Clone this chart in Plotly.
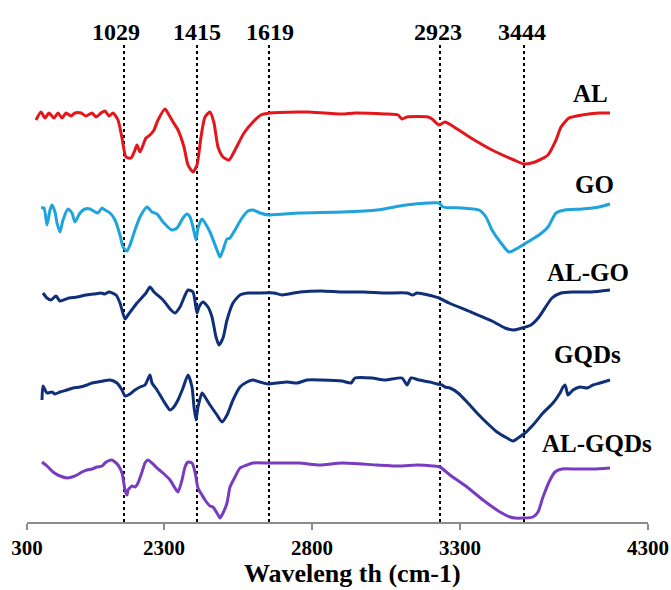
import plotly.graph_objects as go

# x: horizontal chart position units (axis labelled with the reference's tick text)
# y: stacked transmittance (arbitrary units, offsets included)
al_x = [9, 14, 18, 22, 27, 31, 35, 39, 44, 48, 54, 59, 65, 69, 74, 78, 82, 86, 91, 95, 99, 104, 108, 110, 113,
        119, 123, 127, 131, 138, 142, 146, 151, 157, 161, 166, 170, 174, 178, 183, 187, 191, 196, 202, 208, 217,
        226, 234, 243, 272, 281, 315, 328, 358, 371, 375, 380, 401, 405, 412, 418, 427, 444, 465, 487, 497, 508,
        521, 529, 534, 542, 555, 572, 583]
al_y = [402, 410, 404, 409, 404, 409, 404, 409, 406, 409, 409, 406, 409, 405, 409, 411, 406, 409, 402, 384, 365,
        364, 372, 377, 370, 384, 387, 392, 402, 413, 407, 400, 392, 375, 357, 350, 357, 385, 405, 410, 399, 375,
        365, 362, 372, 389, 400, 407, 409, 410, 410, 408, 409, 408, 407, 403, 405, 405, 403, 397, 400, 395, 384,
        372, 362, 358, 360, 367, 382, 395, 404, 407, 409, 409]

go_x = [14, 17, 20, 23, 25, 28, 30, 33, 36, 41, 45, 48, 53, 58, 63, 68, 71, 75, 78, 83, 88, 93, 96, 100, 103, 108,
        113, 120, 125, 130, 136, 145, 150, 156, 160, 163, 166, 169, 171, 175, 178, 183, 190, 193, 196, 200, 203,
        208, 215, 221, 226, 233, 242, 272, 315, 350, 379, 401, 412, 416, 435, 452, 459, 465, 474, 482, 491, 499,
        512, 521, 529, 538, 555, 572, 583]
go_y = [314, 314, 297, 312, 317, 310, 299, 290, 302, 313, 309, 300, 309, 313, 313, 310, 309, 314, 312, 309, 302,
        287, 275, 271, 277, 292, 305, 315, 310, 308, 300, 292, 294, 304, 308, 305, 295, 282, 294, 303, 299, 290,
        272, 265, 272, 283, 284, 292, 304, 311, 312, 309, 307, 309, 310, 312, 317, 319, 319, 315, 314, 312, 305,
        292, 279, 270, 274, 279, 287, 295, 309, 312, 313, 315, 318]

algo_x = [16, 20, 24, 29, 33, 42, 50, 59, 67, 74, 78, 82, 89, 93, 98, 101, 110, 119, 123, 127, 136, 144, 148, 153,
          161, 166, 170, 172, 176, 181, 185, 189, 192, 196, 200, 206, 213, 221, 230, 247, 255, 273, 294, 315, 337,
          358, 380, 386, 390, 401, 412, 422, 444, 465, 478, 487, 495, 504, 512, 525, 534, 546, 564, 583]
algo_y = [229, 224, 222, 226, 221, 224, 225, 227, 228, 229, 228, 230, 227, 219, 203, 207, 219, 229, 235, 230, 222,
          212, 209, 215, 232, 230, 209, 215, 220, 215, 205, 185, 177, 184, 202, 219, 227, 229, 229, 229, 227, 230,
          231, 230, 230, 229, 229, 227, 229, 227, 224, 219, 210, 201, 194, 192, 194, 197, 205, 224, 229, 230, 230,
          232]

gqd_x = [15, 16, 20, 25, 28, 33, 40, 46, 53, 60, 65, 71, 76, 83, 90, 95, 98, 103, 108, 113, 118, 123, 125, 130,
         136, 143, 146, 151, 156, 161, 165, 167, 169, 171, 175, 178, 183, 190, 195, 200, 206, 213, 220, 226, 233,
         241, 250, 260, 270, 280, 294, 315, 324, 328, 345, 358, 375, 380, 384, 392, 403, 410, 415, 418, 423, 431,
         440, 450, 460, 470, 480, 486, 491, 498, 506, 516, 526, 533, 536, 538, 540, 541, 546, 553, 560, 566, 573,
         583]
gqd_y = [122, 136, 129, 130, 128, 130, 132, 134, 135, 137, 139, 140, 141, 142, 139, 132, 126, 128, 132, 135, 137,
         147, 139, 132, 122, 112, 114, 122, 134, 147, 135, 115, 102, 115, 129, 125, 117, 107, 100, 107, 122, 135,
         140, 142, 140, 138, 139, 140, 139, 142, 142, 141, 139, 144, 144, 142, 144, 137, 144, 142, 140, 138, 137,
         135, 134, 129, 120, 109, 99, 90, 84, 81, 84, 89, 97, 109, 119, 129, 135, 137, 130, 127, 132, 135, 134,
         137, 139, 142]

algqd_x = [15, 20, 26, 33, 40, 45, 50, 55, 60, 65, 70, 75, 78, 81, 85, 88, 91, 95, 98, 100, 101, 105, 108, 111,
           115, 118, 121, 125, 130, 136, 143, 148, 151, 155, 158, 161, 165, 168, 171, 175, 178, 183, 186, 190, 193,
           196, 200, 203, 208, 213, 220, 226, 243, 272, 293, 315, 350, 373, 390, 406, 413, 423, 440, 456, 473, 483,
           488, 496, 506, 511, 516, 523, 528, 535, 550, 566, 583]
algqd_y = [60, 56, 50, 46, 44, 45, 47, 50, 52, 53, 55, 56, 59, 61, 62, 60, 57, 49, 32, 27, 32, 36, 35, 39, 50, 59,
           62, 59, 54, 49, 42, 34, 30, 42, 55, 60, 59, 50, 34, 27, 22, 16, 15, 9, 4, 9, 19, 35, 45, 54, 57, 59, 59,
           59, 57, 59, 57, 56, 57, 56, 55, 47, 35, 22, 10, 5, 4, 4, 5, 10, 25, 42, 50, 53, 53, 53, 54]

series_names = ["AL", "GO", "AL-GO", "GQDs", "AL-GQDs"]
series_colors = ["#e3161b", "#1ea3dc", "#0f2f78", "#0f2f78", "#7a3cbf"]
label_pos = [(563, 429), (567, 338), (561, 250), (560, 168), (570, 79)]

peak_labels = ["1029", "1415", "1619", "2923", "3444"]
peak_lines = [97, 170, 242, 413, 497]
peak_text_x = [89, 170, 243, 411, 495]

tick_vals = [0, 137, 285, 433, 621]
tick_text = ["300", "2300", "2800", "3300", "4300"]
x_title = "Waveleng th (cm-1)"
x_title_pos = 325

SERIF = "Liberation Serif"

fig = go.Figure()
data = [(al_x, al_y), (go_x, go_y), (algo_x, algo_y), (gqd_x, gqd_y), (algqd_x, algqd_y)]
for (xs, ys), name, col in zip(data, series_names, series_colors):
    fig.add_trace(go.Scatter(x=xs, y=ys, mode="lines", name=name,
                             line=dict(color=col, width=3, shape="spline", smoothing=0.6),
                             showlegend=False, hoverinfo="skip"))

for px in peak_lines:
    fig.add_shape(type="line", x0=px, x1=px, y0=0, y1=477, xref="x", yref="y",
                  line=dict(color="black", width=2, dash="dot"), layer="below")

for t, px in zip(peak_labels, peak_text_x):
    fig.add_annotation(x=px, y=1.0166, text=f"<b>{t}</b>", showarrow=False, xref="x", yref="paper",
                       yanchor="middle", font=dict(family=SERIF, size=24, color="black"))

for name, (lx, ly) in zip(series_names, label_pos):
    fig.add_annotation(x=lx, y=ly, text=f"<b>{name}</b>", showarrow=False, xref="x", yref="y",
                       font=dict(family=SERIF, size=25, color="black"))

fig.add_annotation(x=x_title_pos, y=-0.106, text=f"<b>{x_title}</b>", showarrow=False, xref="x",
                   yref="paper", yanchor="middle", borderpad=0,
                   font=dict(family=SERIF, size=26, color="black"))

fig.update_layout(
    width=671, height=590,
    margin=dict(l=27, r=23, t=40, b=68, autoexpand=False),
    plot_bgcolor="white", paper_bgcolor="white",
    xaxis=dict(range=[0, 621], tickvals=tick_vals, ticktext=tick_text, automargin=False,
               showgrid=False, zeroline=False, showline=True, linecolor="#8c8c8c", linewidth=1.5,
               ticks="outside", ticklen=6, tickcolor="#8c8c8c", tickwidth=1.5,
               tickfont=dict(family=SERIF, size=21, color="black", weight="bold")),
    yaxis=dict(range=[0, 482], visible=False, showgrid=False, zeroline=False, automargin=False),
)

fig.write_html("out.html")
